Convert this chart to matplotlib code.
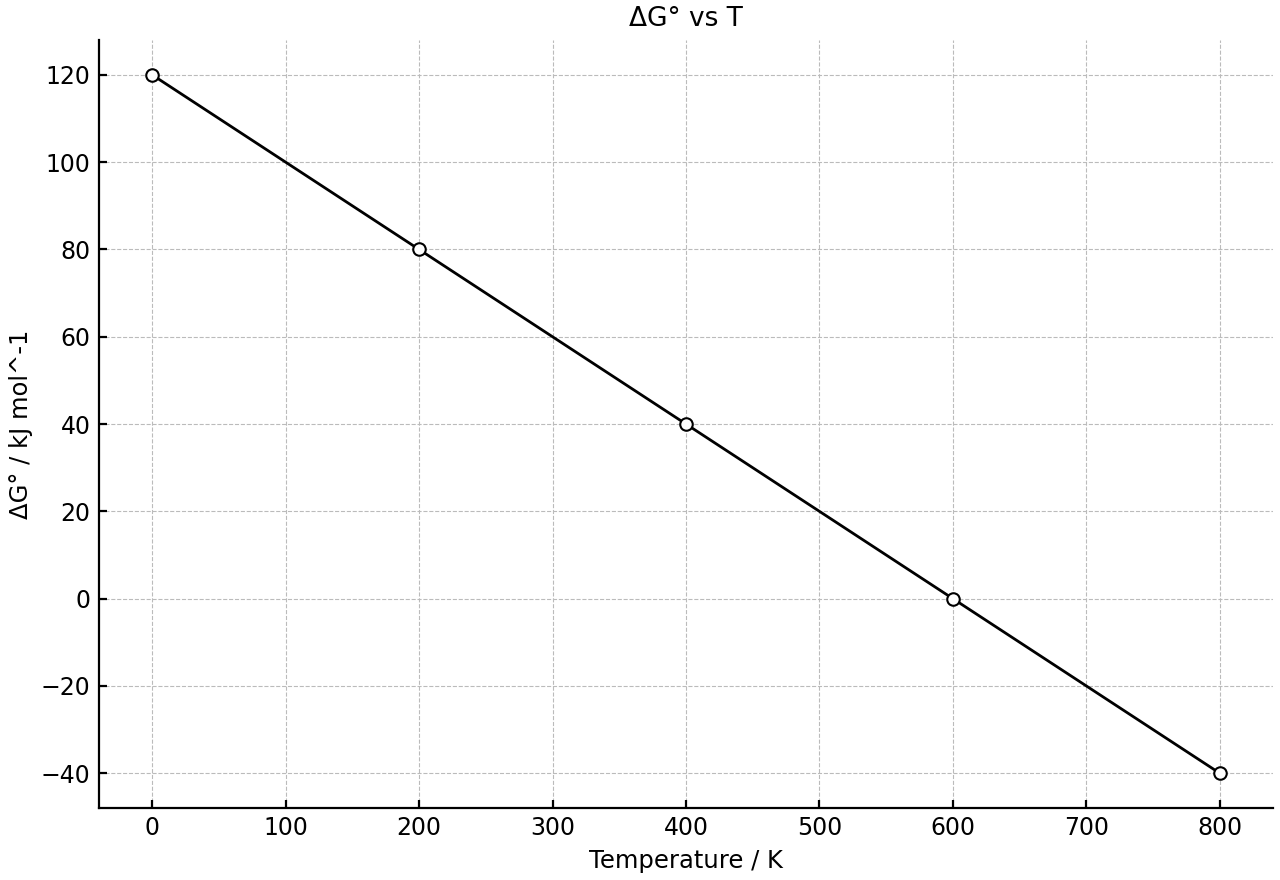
import matplotlib
matplotlib.use("Agg")
import matplotlib.pyplot as plt

temps = [0, 200, 400, 600, 800]
dG = [120, 80, 40, 0, -40]

fig = plt.figure(figsize=(12.8, 8.8), dpi=100)
ax = fig.add_axes([0.0773, 0.0818, 0.9172, 0.8727])
ax.plot(temps, dG, color="black", linewidth=2, marker="o", markersize=9,
        markerfacecolor="white", markeredgecolor="black", markeredgewidth=1.5)
ax.set_xticks(range(0, 900, 100))
ax.set_yticks(range(-40, 140, 20))
ax.grid(True, linestyle="--", color="#bbbbbb", linewidth=0.8)
ax.spines["top"].set_visible(False)
ax.spines["right"].set_visible(False)
ax.spines["left"].set_linewidth(1.6)
ax.spines["bottom"].set_linewidth(1.6)
ax.tick_params(direction="in", labelsize=17, width=1.6, length=6, pad=6)
ax.set_xlabel("Temperature / K", fontsize=17.5, labelpad=6)
ax.set_ylabel("ΔG° / kJ mol^-1", fontsize=17.5, labelpad=6)
ax.set_title("ΔG° vs T", fontsize=19, pad=10)
fig.savefig("out.png", dpi=100)
